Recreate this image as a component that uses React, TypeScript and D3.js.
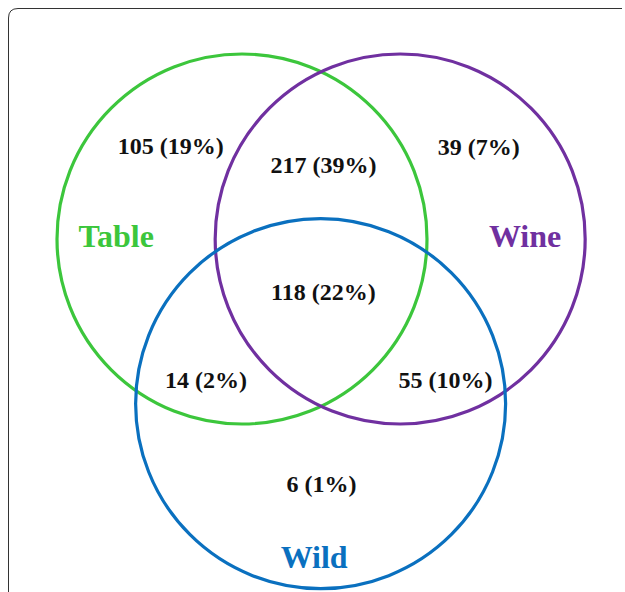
import React, { useEffect, useRef } from "react";
import * as d3 from "d3";

const setNames = ["Table", "Wine", "Wild"];
const setColors = ["#3cc63c", "#7030a0", "#0a70bf"];

const regionCounts = [105, 39, 6, 217, 14, 55, 118];
const regionPercents = [19, 7, 1, 39, 2, 10, 22];

// layout in circle-radius units (radius = 1)
const circleCenters: [number, number][] = [
  [0, 0],
  [0.855, 0],
  [0.425, 0.89],
];
const regionAnchors: [number, number][] = [
  [-0.385, -0.46],
  [1.28, -0.455],
  [0.43, 1.37],
  [0.44, -0.355],
  [-0.195, 0.805],
  [1.1, 0.805],
  [0.44, 0.33],
];
const setLabelAnchors: [number, number][] = [
  [-0.68, 0.045],
  [1.53, 0.045],
  [0.39, 1.78],
];

const W = 625;
const H = 592;
const R = 185;

const App: React.FC = () => {
  const svgRef = useRef<SVGSVGElement>(null);

  useEffect(() => {
    if (!svgRef.current) return;
    const svg = d3.select(svgRef.current);
    svg.selectAll("*").remove();

    const x = d3.scaleLinear().domain([0, 1]).range([242, 242 + R]);
    const y = d3.scaleLinear().domain([0, 1]).range([239, 239 + R]);

    // frame
    svg
      .append("path")
      .attr("d", `M8.5,${H} L8.5,18 Q8.5,8.5 18,8.5 L622,8.5`)
      .attr("fill", "none")
      .attr("stroke", "#333")
      .attr("stroke-width", 1);

    svg
      .append("g")
      .selectAll("circle")
      .data(circleCenters)
      .join("circle")
      .attr("cx", (d) => x(d[0]))
      .attr("cy", (d) => y(d[1]))
      .attr("r", x(1) - x(0))
      .attr("fill", "none")
      .attr("stroke", (_, i) => setColors[i])
      .attr("stroke-width", 3.2);

    svg
      .append("g")
      .selectAll("text")
      .data(regionAnchors)
      .join("text")
      .attr("x", (d) => x(d[0]))
      .attr("y", (d) => y(d[1]))
      .attr("text-anchor", "middle")
      .attr("font-family", "'Liberation Serif', 'Times New Roman', serif")
      .attr("font-weight", "bold")
      .attr("font-size", 24)
      .attr("fill", "#111")
      .text((_, i) => `${regionCounts[i]} (${regionPercents[i]}%)`);

    svg
      .append("g")
      .selectAll("text")
      .data(setLabelAnchors)
      .join("text")
      .attr("x", (d) => x(d[0]))
      .attr("y", (d) => y(d[1]))
      .attr("text-anchor", "middle")
      .attr("font-family", "'Liberation Serif', 'Times New Roman', serif")
      .attr("font-weight", "bold")
      .attr("font-size", 32)
      .attr("fill", (_, i) => setColors[i])
      .text((_, i) => setNames[i]);
  }, []);

  return (
    <svg
      ref={svgRef}
      width={W}
      height={H}
      style={{ position: "absolute", left: 0, top: 0, background: "#fff" }}
    />
  );
};

export default App;
